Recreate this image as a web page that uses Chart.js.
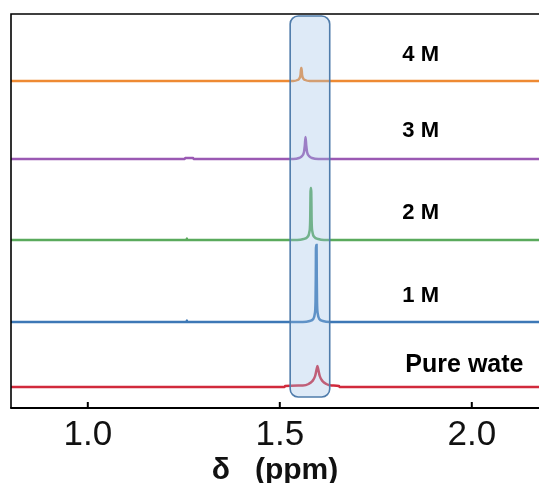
<!DOCTYPE html>
<html>
<head>
<meta charset="utf-8">
<script src="https://cdn.jsdelivr.net/npm/chart.js@4"></script>
<style>
  html, body { margin: 0; padding: 0; background: #fff; }
  canvas { display: block; }
</style>
</head>
<body>
<canvas id="nmr" width="539" height="483"></canvas>
<script>
// sample names (bottom to top) and their vertical offsets
const samples = ['Pure wate', '1 M', '2 M', '3 M', '4 M'];
const offsets = [21, 86, 168, 249, 327];
const colors = ['#d12a3c', '#3d78b6', '#5aaa5c', '#9a59b3', '#ee8a33'];
const labelLift = [22, 26, 27, 28, 26];

// chemical shift (ppm) and intensity
const redShift = [0.8, 1.512, 1.514, 1.56, 1.575, 1.585, 1.592, 1.596, 1.598, 1.6, 1.604, 1.611, 1.621, 1.635, 1.654, 1.656, 2.175];
const redInt   = [0, 0, 1, 1.5, 3, 6, 11, 18, 21, 18, 11, 6, 3, 1.5, 1, 0, 0];

const blueShift = [0.8, 1.257, 1.258, 1.259, 1.56, 1.578, 1.587, 1.591, 1.593, 1.5937, 1.5942, 1.5958, 1.5963, 1.597, 1.599, 1.603, 1.612, 1.63, 2.175];
const blueInt   = [0, 0, 1.5, 0, 0, 1, 3, 8, 20, 45, 77, 77, 45, 20, 8, 3, 1, 0, 0];

const greenShift = [0.8, 1.257, 1.258, 1.259, 1.545, 1.562, 1.572, 1.577, 1.579, 1.5803, 1.5817, 1.583, 1.585, 1.59, 1.6, 1.615, 2.175];
const greenInt   = [0, 0, 1.5, 0, 0, 1, 3, 8, 18, 52, 52, 18, 8, 3, 1, 0, 0];

const purpleShift = [0.8, 1.252, 1.254, 1.274, 1.276, 1.535, 1.55, 1.558, 1.563, 1.565, 1.567, 1.569, 1.571, 1.576, 1.584, 1.6, 2.175];
const purpleInt   = [0, 0, 1, 1, 0, 0, 1, 3, 7, 13, 22, 13, 7, 3, 1, 0, 0];

const orangeShift = [0.8, 1.535, 1.546, 1.551, 1.554, 1.5555, 1.5565, 1.558, 1.561, 1.566, 1.578, 2.175];
const orangeInt   = [0, 0, 1, 2.5, 6, 13, 13, 6, 2.5, 1, 0, 0];

const shifts = [redShift, blueShift, greenShift, purpleShift, orangeShift];
const intensities = [redInt, blueInt, greenInt, purpleInt, orangeInt];

const tickValues = [1.0, 1.5, 2.0];
const boxPpm = [1.527, 1.630];
const labelPpm = [1.827, 1.819, 1.819, 1.819, 1.819];

const font = '"Liberation Sans", Arial, sans-serif';

const datasets = samples.map((name, i) => ({
  label: name,
  data: shifts[i].map((x, j) => ({ x: x, y: intensities[i][j] + offsets[i] })),
  borderColor: colors[i],
  borderWidth: 2.5,
  pointRadius: 0,
  fill: false,
  cubicInterpolationMode: 'monotone'
}));

const decor = {
  id: 'decor',
  afterDatasetsDraw(chart) {
    const { ctx, chartArea: a, scales: { x, y } } = chart;
    ctx.save();

    // highlighted region
    const bx1 = x.getPixelForValue(boxPpm[0]);
    const bx2 = x.getPixelForValue(boxPpm[1]);
    ctx.beginPath();
    ctx.roundRect(bx1, a.top + 2, bx2 - bx1, a.bottom - a.top - 13, 8);
    ctx.fillStyle = 'rgba(160, 195, 232, 0.35)';
    ctx.fill();
    ctx.lineWidth = 1.6;
    ctx.strokeStyle = '#4f7cab';
    ctx.stroke();

    // frame: top, left, bottom
    ctx.strokeStyle = '#000';
    ctx.lineWidth = 1.6;
    ctx.beginPath();
    ctx.moveTo(a.left, a.bottom);
    ctx.lineTo(a.left, a.top);
    ctx.lineTo(a.right, a.top);
    ctx.stroke();
    ctx.lineWidth = 2;
    ctx.beginPath();
    ctx.moveTo(a.left - 0.8, a.bottom);
    ctx.lineTo(a.right, a.bottom);
    ctx.stroke();

    // inward tick marks
    tickValues.forEach((v) => {
      const px = x.getPixelForValue(v);
      ctx.beginPath();
      ctx.moveTo(px, a.bottom);
      ctx.lineTo(px, a.bottom - 6);
      ctx.stroke();
    });

    // sample labels
    ctx.fillStyle = '#000';
    ctx.textBaseline = 'middle';
    ctx.textAlign = 'left';
    samples.forEach((name, i) => {
      ctx.font = (i === 0 ? 'bold 25px ' : 'bold 22px ') + font;
      ctx.fillText(name, x.getPixelForValue(labelPpm[i]), y.getPixelForValue(offsets[i] + labelLift[i]));
    });
    ctx.restore();
  }
};

new Chart(document.getElementById('nmr'), {
  type: 'line',
  data: { datasets },
  options: {
    responsive: false,
    animation: false,
    devicePixelRatio: 1,
    layout: { padding: { left: 11, top: 14, right: 0, bottom: 0 } },
    plugins: { legend: { display: false }, tooltip: { enabled: false } },
    scales: {
      x: {
        type: 'linear',
        min: 0.8,
        max: 2.175,
        grid: { display: false, drawTicks: false, tickLength: 0 },
        border: { display: false },
        afterBuildTicks: (scale) => { scale.ticks = tickValues.map((v) => ({ value: v })); },
        ticks: {
          padding: 10,
          color: '#111',
          font: { family: font, size: 35, lineHeight: 1.0 },
          callback: (v) => Number(v).toFixed(1)
        },
        title: {
          display: true,
          text: 'δ   (ppm)',
          color: '#111',
          font: { family: font, size: 30, weight: 'bold', lineHeight: 0.5 },
          padding: { top: 0, bottom: 5 }
        }
      },
      y: {
        display: false,
        min: 0,
        max: 394
      }
    }
  },
  plugins: [decor]
});
</script>
</body>
</html>
